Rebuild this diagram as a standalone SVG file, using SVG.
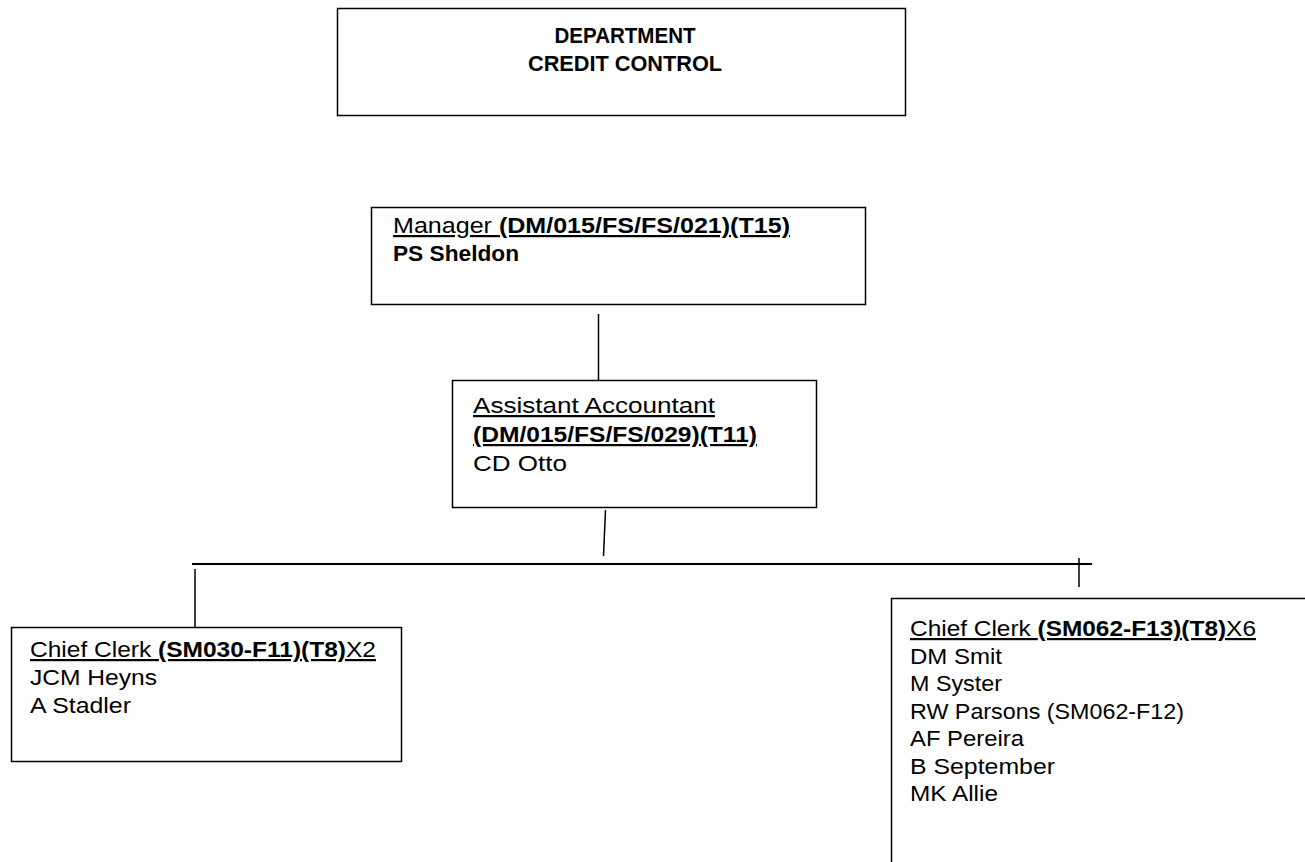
<svg xmlns="http://www.w3.org/2000/svg" width="1305" height="862" viewBox="0 0 1305 862">
<style>
  .box { fill: #fff; stroke: #000; stroke-width: 1.5; }
  .conn { stroke: #000; stroke-width: 1.5; fill: none; }
  .bar { stroke: #000; stroke-width: 2; fill: none; }
  text { font-family: "Liberation Sans", Arial, sans-serif; font-size: 22px; fill: #000; }
  .b { font-weight: bold; }
  .u { text-decoration: underline; }
</style>
<rect width="1305" height="862" fill="#fff"/>
<g id="connectors">
  <line class="conn" x1="598.5" y1="314" x2="598.5" y2="380"/>
  <line class="conn" x1="605.5" y1="510" x2="603.5" y2="556"/>
  <line class="bar" x1="192" y1="564" x2="1092" y2="564"/>
  <line class="conn" x1="195" y1="569" x2="195" y2="627"/>
  <line class="conn" x1="1079" y1="558" x2="1079" y2="587"/>
</g>
<g id="node-department">
  <rect class="box" x="337.5" y="8.5" width="568" height="107"/>
  <text class="b" x="625" y="43" text-anchor="middle" textLength="141" lengthAdjust="spacingAndGlyphs">DEPARTMENT</text>
  <text class="b" x="625" y="71" text-anchor="middle" textLength="194" lengthAdjust="spacingAndGlyphs">CREDIT CONTROL</text>
</g>
<g id="node-manager">
  <rect class="box" x="371.5" y="207.5" width="494" height="97"/>
  <text class="u" x="393" y="233" textLength="397" lengthAdjust="spacingAndGlyphs">Manager <tspan class="b">(DM/015/FS/FS/021)(T15)</tspan></text>
  <text class="b" x="393" y="261" textLength="126" lengthAdjust="spacingAndGlyphs">PS Sheldon</text>
</g>
<g id="node-assistant">
  <rect class="box" x="452.5" y="380.5" width="364" height="127"/>
  <text class="u" x="473" y="413" textLength="242" lengthAdjust="spacingAndGlyphs">Assistant Accountant</text>
  <text class="u b" x="473" y="442" textLength="284" lengthAdjust="spacingAndGlyphs">(DM/015/FS/FS/029)(T11)</text>
  <text x="473" y="471" textLength="94" lengthAdjust="spacingAndGlyphs">CD Otto</text>
</g>
<g id="node-chief-clerk-left">
  <rect class="box" x="11.5" y="627.5" width="390" height="134"/>
  <text class="u" x="30" y="657" textLength="346" lengthAdjust="spacingAndGlyphs">Chief Clerk <tspan class="b">(SM030-F11)(T8)</tspan>X2</text>
  <text x="30" y="685" textLength="127" lengthAdjust="spacingAndGlyphs">JCM Heyns</text>
  <text x="30" y="713" textLength="101" lengthAdjust="spacingAndGlyphs">A Stadler</text>
</g>
<g id="node-chief-clerk-right">
  <rect class="box" x="891.5" y="598.5" width="430" height="280"/>
  <text class="u" x="910" y="636" textLength="346" lengthAdjust="spacingAndGlyphs">Chief Clerk <tspan class="b">(SM062-F13)(T8)</tspan>X6</text>
  <text x="910" y="664" textLength="92" lengthAdjust="spacingAndGlyphs">DM Smit</text>
  <text x="910" y="691" textLength="92" lengthAdjust="spacingAndGlyphs">M Syster</text>
  <text x="910" y="719" textLength="274" lengthAdjust="spacingAndGlyphs">RW Parsons (SM062-F12)</text>
  <text x="910" y="746" textLength="114" lengthAdjust="spacingAndGlyphs">AF Pereira</text>
  <text x="910" y="774" textLength="145" lengthAdjust="spacingAndGlyphs">B September</text>
  <text x="910" y="801" textLength="88" lengthAdjust="spacingAndGlyphs">MK Allie</text>
</g>
</svg>
